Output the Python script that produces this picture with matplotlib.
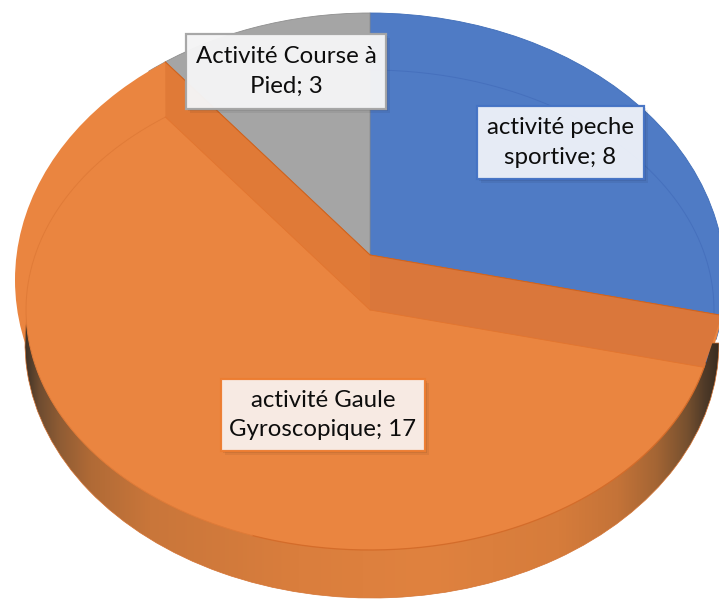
import numpy as np
import matplotlib
matplotlib.use("Agg")
import matplotlib.pyplot as plt
import matplotlib.patches as mpatches
import matplotlib.patheffects as pe
from matplotlib.colors import LinearSegmentedColormap
from matplotlib.transforms import Affine2D

plt.rcParams['font.family'] = ['Lato', 'DejaVu Sans']

# slices, clockwise from twelve o'clock
names = ['activité peche\nsportive', 'activité Gaule\nGyroscopique', 'Activité Course à\nPied']
values = [8, 17, 3]
face_colors = ['#4F7BC5', '#EA8540', '#A5A5A5']
edge_colors = ['#4472C4', '#ED7D31', '#A5A5A5']
box_fills = ['#ECF0F8', '#F9EFEA', '#F5F5F6']
boxes = [(477, 106, 167, 73), (221, 379, 204, 72), (186, 34, 200, 75)]

# (cx, cy, rx, ry) of the projected disc in pixels
OUTER = (370, 280, 355, 267)
FACE = (370, 310, 344, 240)
WALL = (372, 343, 347, 255)
APEX = (370, 255)


def wedge(ax, ell, t1, t2, scale=1.0, **kw):
    cx, cy, rx, ry = ell
    tr = Affine2D().scale(rx * scale, ry * scale).translate(cx, cy) + ax.transData
    return mpatches.Wedge((0, 0), 1, t1 - 90, t2 - 90, transform=tr, **kw)


def ray_hit(start, deg, ell):
    # where the slice boundary leaving start meets an ellipse
    cx, cy, rx, ry = ell
    dx = OUTER[2] * np.sin(np.radians(deg))
    dy = -OUTER[3] * np.cos(np.radians(deg))
    px, py = (start[0] - cx) / rx, (start[1] - cy) / ry
    qx, qy = dx / rx, dy / ry
    a = qx ** 2 + qy ** 2
    b = 2 * (px * qx + py * qy)
    c = px ** 2 + py ** 2 - 1
    t = (-b + np.sqrt(b ** 2 - 4 * a * c)) / (2 * a)
    return start[0] + t * dx, start[1] + t * dy


fig = plt.figure(figsize=(7.19, 5.99), dpi=100)
ax = fig.add_axes([0, 0, 1, 1])
ax.axis('off')

edges = np.cumsum([0] + values) * 360 / sum(values)
blue_end, orange_end = edges[1], edges[2]
face_apex = (FACE[0], FACE[1])

# blue and grey slices on the back of the disc
ax.add_patch(wedge(ax, OUTER, 0, blue_end, fc=face_colors[0], ec='#3F6DB8', lw=0.6, zorder=2))
ax.add_patch(wedge(ax, OUTER, orange_end, 360, fc=face_colors[2], ec='#8E8E8E', lw=0.6, zorder=2))

# orange slice: bright rim, clipped to the outer ellipse
rim_clip = mpatches.Ellipse((OUTER[0], OUTER[1]), 2 * OUTER[2], 2 * OUTER[3], transform=ax.transData)
rim = wedge(ax, (APEX[0], APEX[1], OUTER[2], OUTER[3]), blue_end, orange_end, scale=3,
            fc=face_colors[1], ec='#D0641F', lw=0.7, zorder=3)
ax.add_patch(rim)
rim.set_clip_path(rim_clip)

# side wall, shaded left to right, starts at the far right of the disc
wall_cmap = LinearSegmentedColormap.from_list('wall', [
    (0.00, '#3F3226'), (0.02, '#6E4C30'), (0.05, '#8F5C34'), (0.094, '#B06A36'),
    (0.18, '#C9763A'), (0.395, '#DA7E3D'), (0.58, '#E0823F'), (0.77, '#D67C3B'),
    (0.855, '#C47338'), (0.91, '#A46534'), (0.955, '#76502F'), (0.98, '#4F3A28'),
    (1.00, '#3A2C20')], N=1024)
wall_clip = wedge(ax, WALL, 90, orange_end, fc='none', ec='#D47231', lw=0.5, zorder=3.5)
ax.add_patch(wall_clip)
img = ax.imshow(np.linspace(0, 1, 1024).reshape(1, -1), cmap=wall_cmap, interpolation='bilinear',
                extent=(25, 719, 599, 100), aspect='auto', zorder=3.4)
img.set_clip_path(wall_clip)

# orange top face
ax.add_patch(wedge(ax, FACE, blue_end, orange_end, fc=face_colors[1], ec='none', zorder=4))

# thin inner ring, stops at the corner of the cut face
corner = ray_hit(face_apex, orange_end, FACE)
ring_stop = 360 + np.degrees(np.arctan2((corner[0] - FACE[0]) / FACE[2], -(corner[1] - FACE[1]) / FACE[3]))
ring = np.linspace(0, 360, 721)
ring_x = FACE[0] + FACE[2] * np.sin(np.radians(ring))
ring_y = FACE[1] - FACE[3] * np.cos(np.radians(ring))
ax.plot(ring_x[ring <= blue_end], ring_y[ring <= blue_end], color='#4670BD', lw=0.7, zorder=5)
m = (ring >= blue_end) & (ring <= 200)
ax.plot(ring_x[m], ring_y[m], color='#D46C2A', lw=0.9, zorder=5)
m = (ring >= 200) & (ring <= ring_stop)
ax.plot(ring_x[m], ring_y[m], color='#E07B38', lw=0.7, zorder=5)

# darker cut faces where the orange slice meets the other two
for t, col in ((blue_end, '#DA773B'), (orange_end, '#E07A37')):
    b = ray_hit(APEX, t, OUTER)
    c = ray_hit(face_apex, t, FACE)
    ax.add_patch(mpatches.Polygon([APEX, b, c, face_apex], closed=True, fc=col, ec='none', zorder=6))
    ax.plot([APEX[0], b[0]], [APEX[1], b[1]], color='#CF6420', lw=0.7, zorder=6)
    ax.plot([c[0], face_apex[0]], [c[1], face_apex[1]], color='#E2752F', lw=0.6, zorder=6)

# data labels
for name, v, (x, y, w, h), fill, ec in zip(names, values, boxes, box_fills, edge_colors):
    r = mpatches.Rectangle((x, y), w, h, fc=fill, ec=ec, lw=1.6, alpha=0.97, zorder=8)
    r.set_path_effects([
        pe.SimplePatchShadow(offset=(3, -3), alpha=0.06, shadow_rgbFace='#000000'),
        pe.SimplePatchShadow(offset=(1.5, -1.5), alpha=0.08, shadow_rgbFace='#000000'),
        pe.Normal()])
    ax.add_patch(r)
    ax.text(x + w / 2, y + h / 2, f'{name}; {v}', ha='center', va='center',
            fontsize=17.3, color='#0D0D0D', linespacing=1.5, zorder=9)

ax.set_xlim(0, 719)
ax.set_ylim(599, 0)
fig.savefig('out.png', dpi=100)
